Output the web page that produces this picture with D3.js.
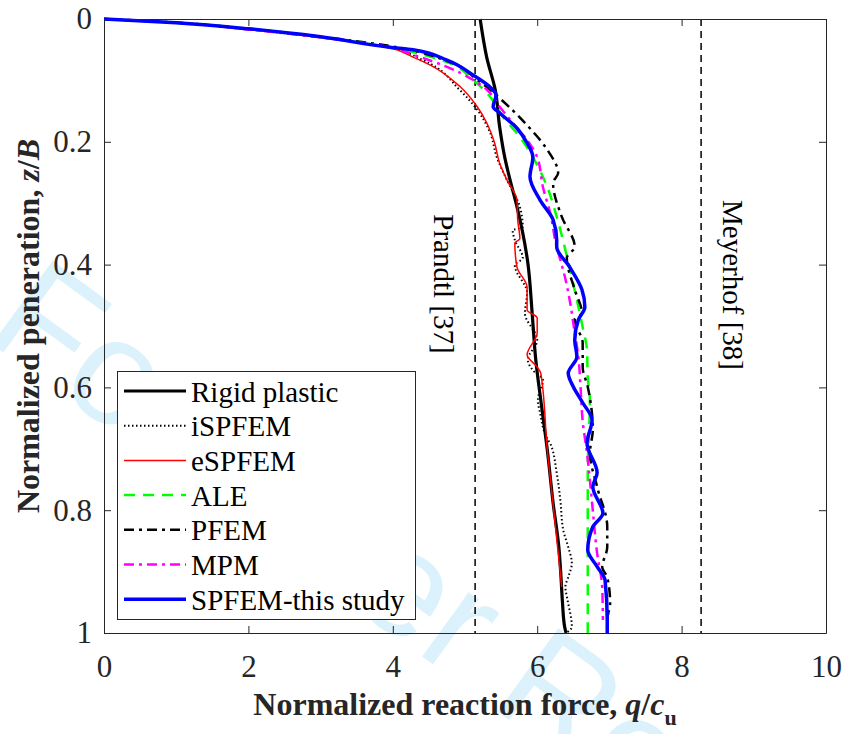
<!DOCTYPE html>
<html>
<head>
<meta charset="utf-8">
<script src="https://cdn.jsdelivr.net/npm/d3@7"></script>
<style>
  body { margin: 0; background: #fff; }
  svg text { font-family: "Liberation Serif", "Times New Roman", serif; }
</style>
</head>
<body>
<div id="chart"></div>
<script>
// tick values
var xTicks = [0, 2, 4, 6, 8, 10];
var yTicks = [0, 0.2, 0.4, 0.6, 0.8, 1];

// reference bearing capacities
var prandtlValue = 5.14;
var meyerhofValue = 8.27;

// curves as [q/cu, z/B]
var rigidPlastic = [[5.21, 0], [5.30, 0.062], [5.42, 0.116], [5.48, 0.176], [5.55, 0.225], [5.65, 0.274],
    [5.72, 0.306], [5.87, 0.397], [5.93, 0.479], [5.98, 0.555], [6.06, 0.63], [6.14, 0.702], [6.22, 0.788],
    [6.30, 0.86], [6.33, 0.91], [6.35, 0.95], [6.38, 0.99], [6.40, 1.0]];

var iSPFEM = [[0, 0], [1.0, 0.006], [2.0, 0.017], [3.0, 0.03], [3.96, 0.047], [4.42, 0.067], [4.93, 0.116],
    [5.17, 0.148], [5.35, 0.186], [5.44, 0.225], [5.58, 0.262], [5.76, 0.306], [5.80, 0.339], [5.66, 0.344],
    [5.69, 0.360], [5.80, 0.389], [5.69, 0.401], [5.86, 0.446], [5.83, 0.479], [6.00, 0.523], [5.87, 0.555],
    [5.94, 0.572], [6.08, 0.588], [6.01, 0.620], [6.04, 0.642], [6.15, 0.686], [6.18, 0.691], [6.27, 0.739],
    [6.32, 0.783], [6.36, 0.832], [6.43, 0.860], [6.48, 0.886], [6.43, 0.909], [6.39, 0.925], [6.42, 0.946],
    [6.48, 0.99], [6.40, 1.0]];

var eSPFEM = [[0, 0], [1.0, 0.006], [2.0, 0.017], [3.0, 0.03], [3.96, 0.047], [4.28, 0.062], [4.52, 0.075],
    [4.93, 0.11], [5.17, 0.143], [5.30, 0.169], [5.41, 0.202], [5.48, 0.235], [5.58, 0.262], [5.72, 0.295],
    [5.73, 0.327], [5.76, 0.358], [5.69, 0.365], [5.72, 0.404], [5.86, 0.437], [5.86, 0.474], [6.00, 0.487],
    [6.00, 0.511], [5.86, 0.547], [6.00, 0.567], [6.05, 0.577], [6.14, 0.702], [6.22, 0.79], [6.34, 0.925]];

var ale = [[0, 0], [1.0, 0.006], [2.0, 0.016], [3.0, 0.029], [3.96, 0.046], [4.75, 0.07], [5.10, 0.098],
    [5.35, 0.127], [5.53, 0.160], [5.76, 0.192], [5.94, 0.225], [6.14, 0.274], [6.27, 0.322], [6.39, 0.376],
    [6.55, 0.458], [6.63, 0.502], [6.69, 0.539], [6.70, 0.583], [6.73, 0.620], [6.70, 0.735], [6.70, 1.0]];

var pfem = [[0, 0], [1.0, 0.006], [2.0, 0.016], [3.0, 0.029], [3.96, 0.044], [4.79, 0.070], [5.17, 0.099],
    [5.48, 0.129], [5.86, 0.173], [6.14, 0.213], [6.29, 0.251], [6.22, 0.267], [6.34, 0.322], [6.52, 0.371],
    [6.41, 0.389], [6.52, 0.441], [6.62, 0.479], [6.52, 0.490], [6.63, 0.528], [6.63, 0.567], [6.70, 0.599],
    [6.77, 0.669], [6.73, 0.707], [6.83, 0.762], [6.97, 0.827], [6.97, 0.860], [6.90, 0.893], [6.97, 0.909],
    [7.01, 0.951], [6.97, 0.979], [6.97, 1.0]];

var mpm = [[0, 0], [1.0, 0.006], [2.0, 0.017], [3.0, 0.03], [3.96, 0.046], [4.28, 0.058], [4.75, 0.078],
    [5.11, 0.099], [5.30, 0.115], [5.48, 0.143], [5.66, 0.169], [5.86, 0.197], [6.00, 0.225], [6.08, 0.274],
    [6.18, 0.316], [6.27, 0.371], [6.32, 0.392], [6.39, 0.423], [6.45, 0.458], [6.52, 0.511], [6.57, 0.550],
    [6.60, 0.599], [6.63, 0.655], [6.69, 0.707], [6.76, 0.788], [6.83, 0.870], [6.90, 0.925], [6.91, 0.979]];

var spfem = [[0, 0], [1.0, 0.006], [2.0, 0.016], [3.0, 0.029], [3.96, 0.046], [4.28, 0.050], [4.75, 0.067],
    [5.11, 0.091], [5.35, 0.111], [5.43, 0.124], [5.39, 0.143], [5.48, 0.153], [5.72, 0.178], [5.86, 0.202],
    [5.94, 0.225], [5.90, 0.257], [6.04, 0.295], [6.22, 0.327], [6.27, 0.360], [6.27, 0.371], [6.45, 0.404],
    [6.62, 0.441], [6.66, 0.469], [6.57, 0.490], [6.52, 0.523], [6.55, 0.550], [6.43, 0.577], [6.50, 0.599],
    [6.63, 0.625], [6.76, 0.653], [6.69, 0.691], [6.83, 0.739], [6.77, 0.762], [6.91, 0.805], [6.77, 0.827],
    [6.70, 0.865], [6.83, 0.892], [6.94, 0.914], [6.97, 0.979], [6.97, 1.0]];

var seriesNames = ["Rigid plastic", "iSPFEM", "eSPFEM", "ALE", "PFEM", "MPM", "SPFEM-this study"];

var width = 845, height = 734;
var plotLeft = 104, plotRight = 826, plotTop = 19, plotBottom = 633;
var axisColor = "#262626";

var svg = d3.select("#chart").append("svg")
    .attr("width", width)
    .attr("height", height);

var x = d3.scaleLinear().domain([0, 10]).range([plotLeft, plotRight]);
var y = d3.scaleLinear().domain([0, 1]).range([plotTop, plotBottom]);

// watermark behind everything (the legend box hides part of it)
svg.append("text")
    .attr("transform", "translate(-18,337) rotate(36)")
    .style("font-family", "'Liberation Sans', Arial, sans-serif")
    .style("font-size", "150px")
    .style("fill", "#dbf1fc")
    .text("For Peer Review");

svg.append("clipPath").attr("id", "plotClip")
    .append("rect")
    .attr("x", plotLeft).attr("y", plotTop - 2)
    .attr("width", plotRight - plotLeft).attr("height", plotBottom - plotTop + 2);

var styles = [
    { data: rigidPlastic, color: "#000", width: 3.2, dash: null },
    { data: iSPFEM, color: "#000", width: 2, dash: "1.5,2.5" },
    { data: eSPFEM, color: "#ff0000", width: 1.5, dash: null },
    { data: ale, color: "#00ff00", width: 2.5, dash: "11,8" },
    { data: pfem, color: "#000", width: 2.5, dash: "10,5,3,5" },
    { data: mpm, color: "#ff00ff", width: 2.5, dash: "10,5,3,5" },
    { data: spfem, color: "#0000ff", width: 3.5, dash: null }
];

var line = d3.line()
    .x(function (d) { return x(d[0]); })
    .y(function (d) { return y(d[1]); })
    .curve(d3.curveMonotoneY);

var plot = svg.append("g").attr("clip-path", "url(#plotClip)");

// vertical reference lines
[prandtlValue, meyerhofValue].forEach(function (v) {
    plot.append("line")
        .attr("x1", x(v)).attr("x2", x(v))
        .attr("y1", plotTop).attr("y2", plotBottom)
        .style("stroke", "#000")
        .style("stroke-width", 1.5)
        .style("stroke-dasharray", "7,5");
});

// curves, drawn so the blue one ends on top
styles.forEach(function (s) {
    plot.append("path")
        .datum(s.data)
        .attr("d", line)
        .style("fill", "none")
        .style("stroke", s.color)
        .style("stroke-width", s.width)
        .style("stroke-dasharray", s.dash)
        .style("stroke-linejoin", "round");
});

// vertical labels for the reference lines
svg.append("text")
    .attr("transform", "translate(434,284) rotate(90)")
    .attr("text-anchor", "middle")
    .style("font-size", "29px")
    .text("Prandtl [37]");

svg.append("text")
    .attr("transform", "translate(723,285) rotate(90)")
    .attr("text-anchor", "middle")
    .style("font-size", "29px")
    .text("Meyerhof [38]");

// axes
function styleAxis(g) {
    g.select(".domain").style("stroke", axisColor).style("stroke-width", 1);
    g.selectAll(".tick line").style("stroke", axisColor).style("stroke-width", 1);
    g.selectAll(".tick text")
        .style("font-family", "'Liberation Serif', 'Times New Roman', serif")
        .style("font-size", "31px")
        .style("fill", "#262626");
}

svg.append("g")
    .attr("transform", "translate(0," + plotBottom + ")")
    .call(d3.axisBottom(x).tickValues(xTicks).tickSizeInner(-7).tickSizeOuter(0).tickPadding(22)
        .tickFormat(d3.format("d")))
    .call(styleAxis);

svg.append("g")
    .attr("transform", "translate(0," + plotTop + ")")
    .call(d3.axisTop(x).tickValues(xTicks).tickSizeInner(-7).tickSizeOuter(0).tickFormat(""))
    .call(styleAxis);

svg.append("g")
    .attr("transform", "translate(" + plotLeft + ",0)")
    .call(d3.axisLeft(y).tickValues(yTicks).tickSizeInner(-7).tickSizeOuter(0).tickPadding(12)
        .tickFormat(function (d) { return d === 0 || d === 1 ? d : d3.format(".1f")(d); }))
    .call(styleAxis);

svg.append("g")
    .attr("transform", "translate(" + plotRight + ",0)")
    .call(d3.axisRight(y).tickValues(yTicks).tickSizeInner(-7).tickSizeOuter(0).tickFormat(""))
    .call(styleAxis);

// axis titles
var xTitle = svg.append("text")
    .attr("x", (plotLeft + plotRight) / 2)
    .attr("y", 715)
    .attr("text-anchor", "middle")
    .style("font-size", "32px")
    .style("font-weight", "bold")
    .style("fill", "#262626");
xTitle.append("tspan").text("Normalized reaction force, ");
xTitle.append("tspan").style("font-style", "italic").text("q");
xTitle.append("tspan").text("/");
xTitle.append("tspan").style("font-style", "italic").text("c");
xTitle.append("tspan").attr("dy", 10).style("font-size", "22px").text("u");

var yTitle = svg.append("text")
    .attr("transform", "translate(39," + (plotTop + plotBottom) / 2 + ") rotate(-90)")
    .attr("text-anchor", "middle")
    .style("font-size", "32px")
    .style("font-weight", "bold")
    .style("fill", "#262626");
yTitle.append("tspan").text("Normalized peneration, ");
yTitle.append("tspan").style("font-style", "italic").text("z");
yTitle.append("tspan").text("/");
yTitle.append("tspan").style("font-style", "italic").text("B");

// legend
var legend = svg.append("g");
legend.append("rect")
    .attr("x", 117.5).attr("y", 371.5)
    .attr("width", 298).attr("height", 248)
    .style("fill", "#fff")
    .style("stroke", axisColor)
    .style("stroke-width", 1);

styles.forEach(function (s, i) {
    var cy = 391 + i * 34.7;
    legend.append("line")
        .attr("x1", 124).attr("x2", 186)
        .attr("y1", cy).attr("y2", cy)
        .style("stroke", s.color)
        .style("stroke-width", s.width)
        .style("stroke-dasharray", s.dash);
    legend.append("text")
        .attr("x", 191)
        .attr("y", cy + 10.5)
        .style("font-size", "29px")
        .text(seriesNames[i]);
});
</script>
</body>
</html>
